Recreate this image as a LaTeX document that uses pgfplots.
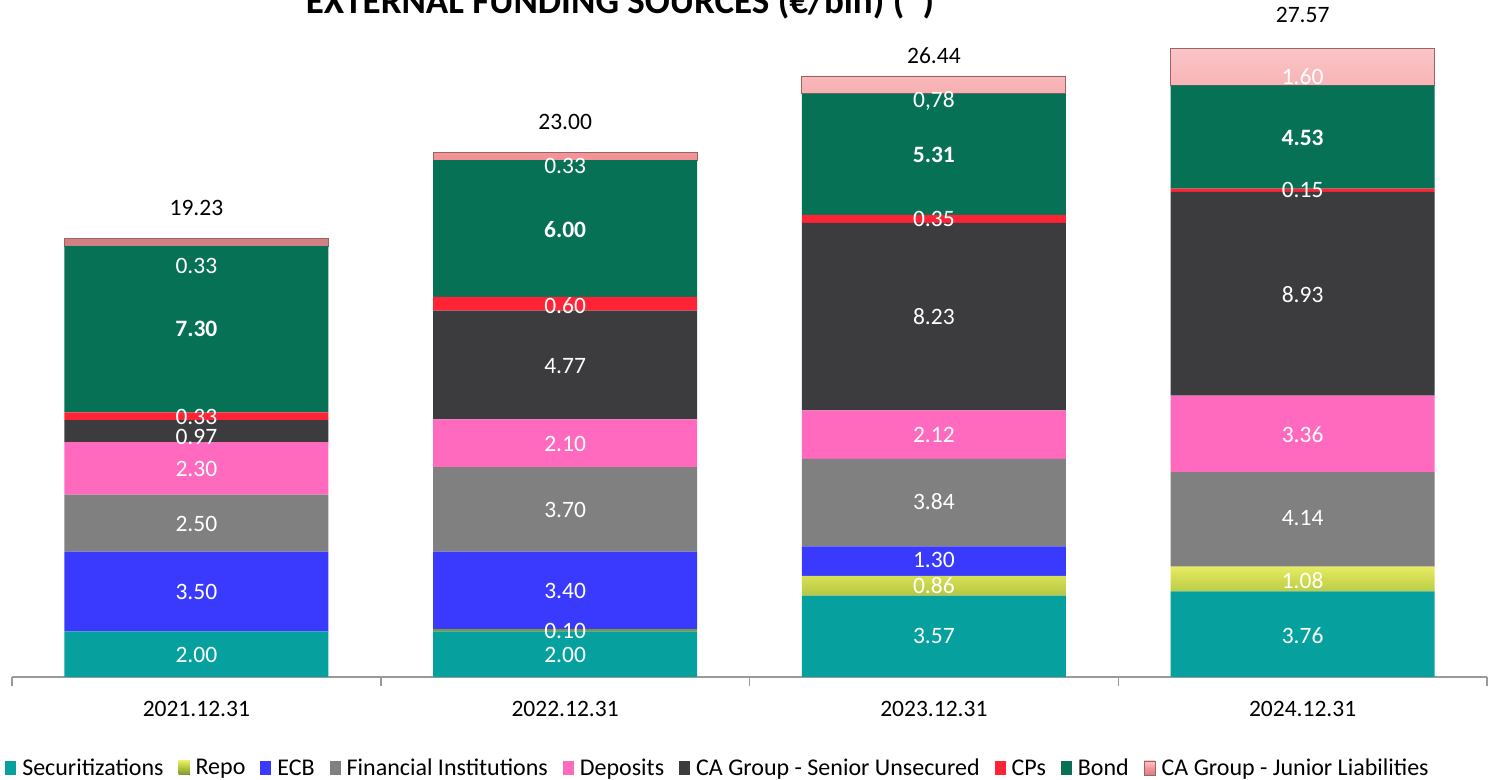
\documentclass[border=0pt]{standalone}
\usepackage{pgfplots}
\usepackage{pgfplotstable}
\pgfplotsset{compat=1.18}
\usepackage{fontspec}
\setmainfont{Carlito}

\definecolor{cSec}{HTML}{06A09E}
\definecolor{cRepo}{HTML}{AFC23E}
\definecolor{cEcb}{HTML}{3A3AFF}
\definecolor{cFi}{HTML}{808080}
\definecolor{cDep}{HTML}{FF69BE}
\definecolor{cSen}{HTML}{3C3C3E}
\definecolor{cCp}{HTML}{FF2336}
\definecolor{cBond}{HTML}{077155}
\definecolor{cJun}{HTML}{F59699}
\definecolor{axgray}{HTML}{9A9A9A}

% funding by source, one row per year-end
\pgfplotstableread{
x sec  repo ecb  fi   dep  sen  cp   bond jun
0 2.00 0    3.50 2.50 2.30 0.97 0.33 7.30 0.33
1 2.00 0.10 3.40 3.70 2.10 4.77 0.60 6.00 0.33
2 3.57 0.86 1.30 3.84 2.12 8.23 0.35 5.31 0.78
3 3.76 1.08 0    4.14 3.36 8.93 0.15 4.53 1.60
}\funding

\newcommand{\lbl}[3]{\node[text=white] at (axis cs:#1,#2) {#3};}
\newcommand{\tot}[3]{\node[text=black] at (axis cs:#1,#2) {#3};}

\begin{document}
\begin{tikzpicture}[font=\fontsize{23.5bp}{28bp}\selectfont]
\begin{axis}[
    set layers=standard,
    at={(12bp,103bp)}, anchor=south west,
    scale only axis, width=1475bp, height=677bp,
    ybar stacked, bar width=264bp,
    xmin=-0.5, xmax=3.5, ymin=0, ymax=29.69,
    clip=false,
    axis y line=none, axis x line*=bottom,
    axis line style={draw=axgray, line width=1.5bp, -},
    xtick={0,1,2,3},
    xticklabels={2021.12.31,2022.12.31,2023.12.31,2024.12.31},
    major tick length=0pt,
    minor xtick={-0.5,0.5,1.5,2.5,3.5},
    minor tick length=9bp, tick align=outside,
    minor tick style={draw=axgray, line width=1.5bp},
    xticklabel style={anchor=base, yshift=-40bp},
    lg/.style={legend image code/.code={\fill[##1] (0bp,-7bp) rectangle (11bp,7bp);}},
    legend columns=-1,
    legend style={at={(axis description cs:-0.0047,-0.1344)}, anchor=west,
        draw=none, fill=none, inner sep=0pt,
        font=\fontsize{24bp}{28bp}\selectfont,
        nodes={inner xsep=6bp},
        /tikz/every even column/.append style={column sep=9bp}},
]
\addplot[lg, fill=cSec, draw=none] table[x=x, y=sec] {\funding};
\addlegendentry{Securitizations}
\addplot[lg, draw=none, top color=cRepo!45!yellow!70!white, bottom color=cRepo!75!black, middle color=cRepo] table[x=x, y=repo] {\funding};
\addlegendentry{Repo}
\addplot[lg, fill=cEcb, draw=none] table[x=x, y=ecb] {\funding};
\addlegendentry{ECB}
\addplot[lg, fill=cFi, draw=none] table[x=x, y=fi] {\funding};
\addlegendentry{Financial Institutions}
\addplot[lg, fill=cDep, draw=none] table[x=x, y=dep] {\funding};
\addlegendentry{Deposits}
\addplot[lg, fill=cSen, draw=none] table[x=x, y=sen] {\funding};
\addlegendentry{CA Group - Senior Unsecured}
\addplot[lg, fill=cCp, draw=none] table[x=x, y=cp] {\funding};
\addlegendentry{CPs}
\addplot[lg, fill=cBond, draw=none] table[x=x, y=bond] {\funding};
\addlegendentry{Bond}
\addplot[lg, draw=cJun!65!black, line width=0.8bp, top color=cJun!55!white, bottom color=cJun!85!black, middle color=cJun] table[x=x, y=jun] {\funding};
\addlegendentry{CA Group - Junior Liabilities}

\pgfplotsextra{%
\begin{pgfonlayer}{axis foreground}
% 2021
\lbl{0}{0.96}{2.00}
\lbl{0}{3.73}{3.50}
\lbl{0}{6.71}{2.50}
\lbl{0}{9.12}{2.30}
\lbl{0}{10.53}{0.97}
\lbl{0}{11.40}{0.33}
\lbl{0}{15.26}{\textbf{7.30}}
\lbl{0}{18.03}{0.33}
\tot{0}{20.57}{19.23}
% 2022
\lbl{1}{0.96}{2.00}
\lbl{1}{2.02}{0.10}
\lbl{1}{3.77}{3.40}
\lbl{1}{7.32}{3.70}
\lbl{1}{10.22}{2.10}
\lbl{1}{13.64}{4.77}
\lbl{1}{16.27}{0.60}
\lbl{1}{19.61}{\textbf{6.00}}
\lbl{1}{22.41}{0.33}
\tot{1}{24.34}{23.00}
% 2023
\lbl{2}{1.80}{3.57}
\lbl{2}{3.99}{0.86}
\lbl{2}{5.13}{1.30}
\lbl{2}{7.68}{3.84}
\lbl{2}{10.61}{2.12}
\lbl{2}{15.79}{8.23}
\lbl{2}{20.09}{0.35}
\lbl{2}{22.89}{\textbf{5.31}}
\lbl{2}{25.26}{0,78}
\tot{2}{27.24}{26.44}
% 2024
\lbl{3}{1.80}{3.76}
\lbl{3}{4.25}{1.08}
\lbl{3}{6.97}{4.14}
\lbl{3}{10.61}{3.36}
\lbl{3}{16.75}{8.93}
\lbl{3}{21.36}{0.15}
\lbl{3}{23.64}{\textbf{4.53}}
\lbl{3}{26.32}{1.60}
\tot{3}{29.04}{27.57}
\end{pgfonlayer}}
\end{axis}
\node[font=\bfseries\fontsize{37bp}{42bp}\selectfont, anchor=base] at (620bp,766bp)
    {EXTERNAL FUNDING SOURCES (€/bln) (*)};
\pgfresetboundingbox
\useasboundingbox (0,0) rectangle (1494bp,780bp);
\end{tikzpicture}
\end{document}
